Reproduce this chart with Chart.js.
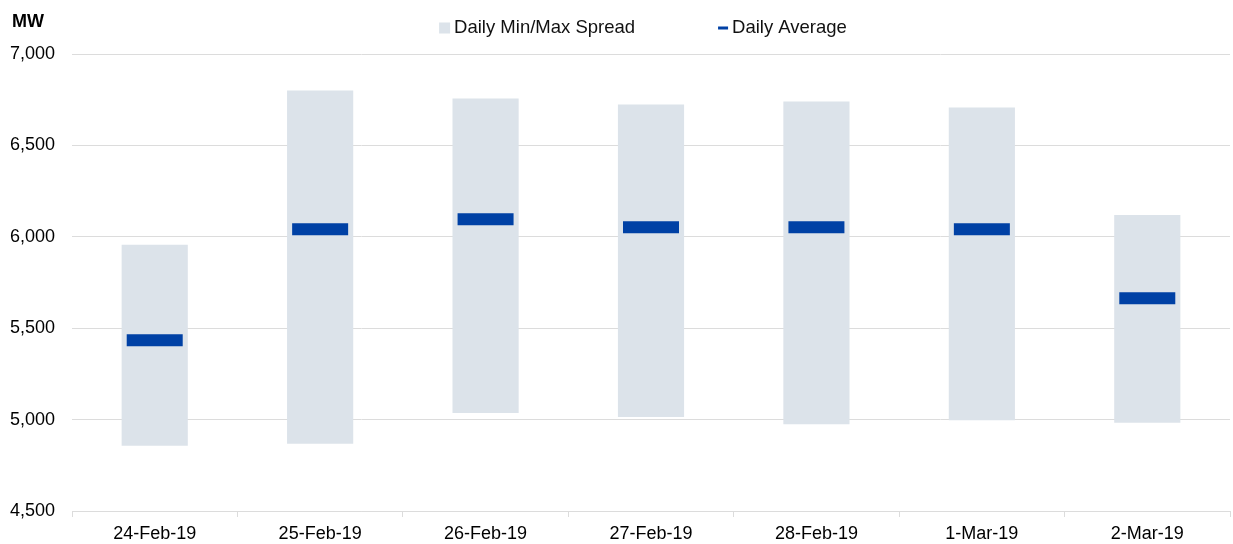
<!DOCTYPE html>
<html lang="en">
<head>
    <meta charset="UTF-8">
    <title>Daily Min/Max Spread and Daily Average</title>
    <script src="https://cdn.jsdelivr.net/npm/chart.js"></script>
    <style>
        html, body { margin: 0; padding: 0; background: white; overflow: hidden; }
        canvas { display: block; }
    </style>
</head>
<body>
    <canvas id="grafico" width="1233" height="544"></canvas>
    <script>
        // datos (MW)
        const days = ["24-Feb-19", "25-Feb-19", "26-Feb-19", "27-Feb-19", "28-Feb-19", "1-Mar-19", "2-Mar-19"];
        const dailyMin = [4857, 4868, 5036, 5014, 4975, 4997, 4983];
        const dailyMax = [5957, 6801, 6757, 6724, 6740, 6708, 6119];
        const dailyAvg = [5434, 6041, 6096, 6052, 6052, 6041, 5664];
        const yTicks = [4500, 5000, 5500, 6000, 6500, 7000];

        const spreadColor = "#dce3ea";
        const avgColor = "#0041a5";
        const gridColor = "#dcdcdc";
        const fontFamily = "'Liberation Sans', Arial, sans-serif";

        // leyenda y unidad dibujadas a mano para respetar el espaciado
        const extras = {
            id: "extras",
            afterDraw(chart) {
                const ctx = chart.ctx;
                const area = chart.chartArea;
                ctx.save();
                ctx.fillStyle = "#000";
                ctx.font = "bold 18px " + fontFamily;
                ctx.textBaseline = "middle";
                ctx.textAlign = "left";
                ctx.fillText("MW", 12, 22);

                ctx.font = "18.5px " + fontFamily;
                const t1 = "Daily Min/Max Spread", t2 = "Daily Average";
                const w1 = ctx.measureText(t1).width, w2 = ctx.measureText(t2).width;
                const total = 11 + 4 + w1 + 83 + 10 + 4 + w2;
                let x = (area.left + area.right) / 2 - total / 2 - 8;
                const y = 28;
                ctx.fillStyle = spreadColor;
                ctx.fillRect(x, y - 5.5, 11, 11);
                x += 15;
                ctx.fillStyle = "#111";
                ctx.fillText(t1, x, y);
                x += w1 + 83;
                ctx.fillStyle = avgColor;
                ctx.fillRect(x, y - 1.5, 10, 3);
                x += 14;
                ctx.fillStyle = "#111";
                ctx.fillText(t2, x, y);
                ctx.restore();
            }
        };

        new Chart(document.getElementById("grafico"), {
            type: "bar",
            data: {
                labels: days,
                datasets: [
                    {
                        type: "line",
                        label: "Daily Average",
                        data: dailyAvg,
                        showLine: false,
                        pointStyle: "line",
                        pointRadius: 28,
                        pointHoverRadius: 28,
                        borderWidth: 12,
                        pointBorderWidth: 12,
                        borderColor: avgColor,
                        backgroundColor: avgColor,
                        order: 1
                    },
                    {
                        label: "Daily Min/Max Spread",
                        data: days.map((d, i) => [dailyMin[i], dailyMax[i]]),
                        backgroundColor: spreadColor,
                        borderWidth: 0,
                        categoryPercentage: 0.4,
                        barPercentage: 1,
                        order: 2
                    }
                ]
            },
            options: {
                responsive: false,
                animation: false,
                layout: { autoPadding: false, padding: { top: 54, left: 10, right: 3, bottom: 0 } },
                plugins: {
                    legend: { display: false },
                    tooltip: { enabled: false }
                },
                scales: {
                    x: {
                        offset: true,
                        grid: { offset: true, drawOnChartArea: false, color: gridColor, tickLength: 6 },
                        border: { color: gridColor },
                        ticks: { color: "#000", padding: 6, font: { family: fontFamily, size: 18 } },
                        afterFit: (axis) => {
                            axis.height = 33;
                            axis.paddingLeft = 0;
                            axis.paddingRight = 0;
                        }
                    },
                    y: {
                        min: 4500,
                        max: 7000,
                        afterBuildTicks: (axis) => { axis.ticks = yTicks.map(v => ({ value: v })); },
                        afterFit: (axis) => {
                            axis.width = 62;
                            axis.paddingTop = 0;
                            axis.paddingBottom = 0;
                        },
                        grid: { color: gridColor, drawTicks: false },
                        border: { display: false },
                        ticks: {
                            color: "#000",
                            padding: 17,
                            font: { family: fontFamily, size: 18 },
                            callback: (v) => v.toLocaleString("en-US")
                        }
                    }
                }
            },
            plugins: [extras]
        });
    </script>
</body>
</html>
